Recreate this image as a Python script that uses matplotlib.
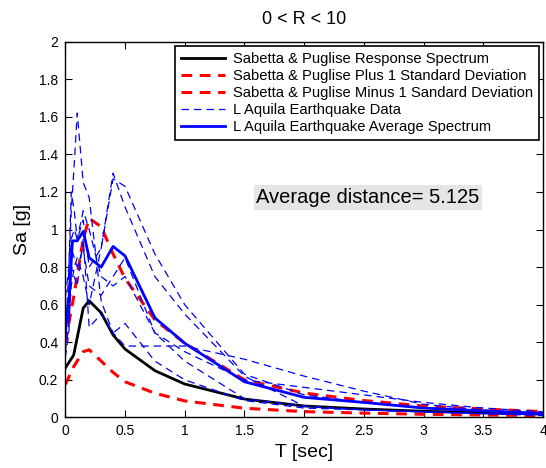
import matplotlib
matplotlib.use("Agg")
import matplotlib.pyplot as plt

plt.rcParams["font.family"] = ["Liberation Sans", "DejaVu Sans"]

# Sabetta & Pugliese model spectrum (median, +1 sigma, -1 sigma)
T_sp = [0, 0.07, 0.15, 0.2, 0.3, 0.4, 0.5, 0.75, 1.0, 1.5, 2.0, 2.5, 3.0, 3.5, 4.0]
sp_median = [0.263, 0.332, 0.582, 0.621, 0.557, 0.439, 0.364, 0.249, 0.178, 0.098, 0.061, 0.045, 0.033, 0.025, 0.018]
sp_plus = [0.40, 0.64, 0.95, 1.06, 1.015, 0.87, 0.74, 0.52, 0.395, 0.20, 0.13, 0.09, 0.061, 0.045, 0.031]
sp_minus = [0.175, 0.27, 0.35, 0.36, 0.30, 0.24, 0.19, 0.129, 0.088, 0.049, 0.031, 0.023, 0.017, 0.013, 0.010]

# L'Aquila records
T_rec = [0, 0.03, 0.05, 0.075, 0.1, 0.15, 0.2, 0.3, 0.4, 0.5, 0.75, 1.0, 1.5, 2.0, 2.5, 3.0, 3.5, 4.0]
rec_1 = [0.40, 0.80, 1.10, 1.35, 1.62, 1.25, 1.17, 0.62, 0.45, 0.38, 0.38, 0.38, 0.31, 0.22, 0.14, 0.07, 0.04, 0.02]
rec_2 = [0.35, 0.50, 0.70, 0.80, 0.85, 0.75, 0.60, 0.90, 1.30, 1.12, 0.75, 0.55, 0.22, 0.06, 0.04, 0.03, 0.02, 0.015]
rec_3 = [0.55, 0.65, 0.95, 1.00, 0.95, 1.05, 0.80, 0.90, 1.27, 1.23, 0.87, 0.60, 0.23, 0.12, 0.08, 0.05, 0.035, 0.02]
rec_4 = [0.64, 0.80, 1.20, 1.10, 0.95, 1.10, 1.00, 0.75, 0.70, 0.75, 0.45, 0.30, 0.10, 0.06, 0.04, 0.03, 0.02, 0.01]
rec_5 = [0.32, 0.45, 0.80, 0.75, 0.70, 0.95, 0.48, 0.55, 0.45, 0.50, 0.30, 0.20, 0.09, 0.05, 0.04, 0.03, 0.02, 0.015]
rec_6 = [0.45, 0.55, 0.90, 0.85, 0.80, 0.90, 0.70, 0.65, 0.75, 0.85, 0.45, 0.35, 0.20, 0.16, 0.12, 0.08, 0.05, 0.03]
records = [rec_1, rec_2, rec_3, rec_4, rec_5, rec_6]

# average of the records
T_avg = [0, 0.03, 0.06, 0.1, 0.15, 0.2, 0.3, 0.4, 0.5, 0.75, 1.0, 1.5, 2.0, 2.5, 3.0, 3.5, 4.0]
avg = [0.45, 0.62, 0.94, 0.94, 0.99, 0.85, 0.80, 0.91, 0.86, 0.53, 0.395, 0.19, 0.107, 0.08, 0.05, 0.035, 0.022]

avg_distance = 5.125

fig = plt.figure(figsize=(5.46, 4.68), dpi=100)
ax = fig.add_axes([0.1196, 0.108, 0.875, 0.803])

h_med, = ax.plot(T_sp, sp_median, color="black", lw=2)
h_plus, = ax.plot(T_sp, sp_plus, color="red", lw=2.2, ls=(0, (3.5, 2.5)))
h_minus, = ax.plot(T_sp, sp_minus, color="red", lw=2.2, ls=(0, (3.5, 2.5)))
h_rec = None
for r in records:
    h_rec, = ax.plot(T_rec, r, color="blue", lw=0.9, ls=(0, (6, 4)))
h_avg, = ax.plot(T_avg, avg, color="blue", lw=2)

ax.set_xlim(0, 4)
ax.set_ylim(0, 2)
ax.set_xticks([0, 0.5, 1, 1.5, 2, 2.5, 3, 3.5, 4])
ax.set_xticklabels(["0", "0.5", "1", "1.5", "2", "2.5", "3", "3.5", "4"])
ax.set_yticks([0, 0.2, 0.4, 0.6, 0.8, 1.0, 1.2, 1.4, 1.6, 1.8, 2.0])
ax.set_yticklabels(["0", "0.2", "0.4", "0.6", "0.8", "1", "1.2", "1.4", "1.6", "1.8", "2"])
ax.tick_params(direction="in", top=True, right=True, length=5, labelsize=10, pad=5)
for s in ax.spines.values():
    s.set_linewidth(1.0)

ax.set_title("0 < R < 10", fontsize=13, pad=13)
ax.set_xlabel("T [sec]", fontsize=14, labelpad=4)
ax.set_ylabel("Sa [g]", fontsize=14, labelpad=6)

leg = ax.legend([h_med, h_plus, h_minus, h_rec, h_avg],
                ["Sabetta & Puglise Response Spectrum",
                 "Sabetta & Puglise Plus 1 Standard Deviation",
                 "Sabetta & Puglise Minus 1 Sandard Deviation",
                 "L Aquila Earthquake Data",
                 "L Aquila Earthquake Average Spectrum"],
                loc="upper right", fontsize=10.6, fancybox=False, framealpha=1,
                edgecolor="black", handlelength=3, labelspacing=0.2,
                borderaxespad=0.3, handletextpad=0.5, borderpad=0.4)
leg.get_frame().set_linewidth(1.2)

ax.text(1.6, 1.17, "Average distance= %.3f" % avg_distance, fontsize=14.5,
        ha="left", va="center",
        bbox=dict(facecolor="#e5e5e5", edgecolor="none", pad=2))

fig.savefig("out.png", dpi=100)
